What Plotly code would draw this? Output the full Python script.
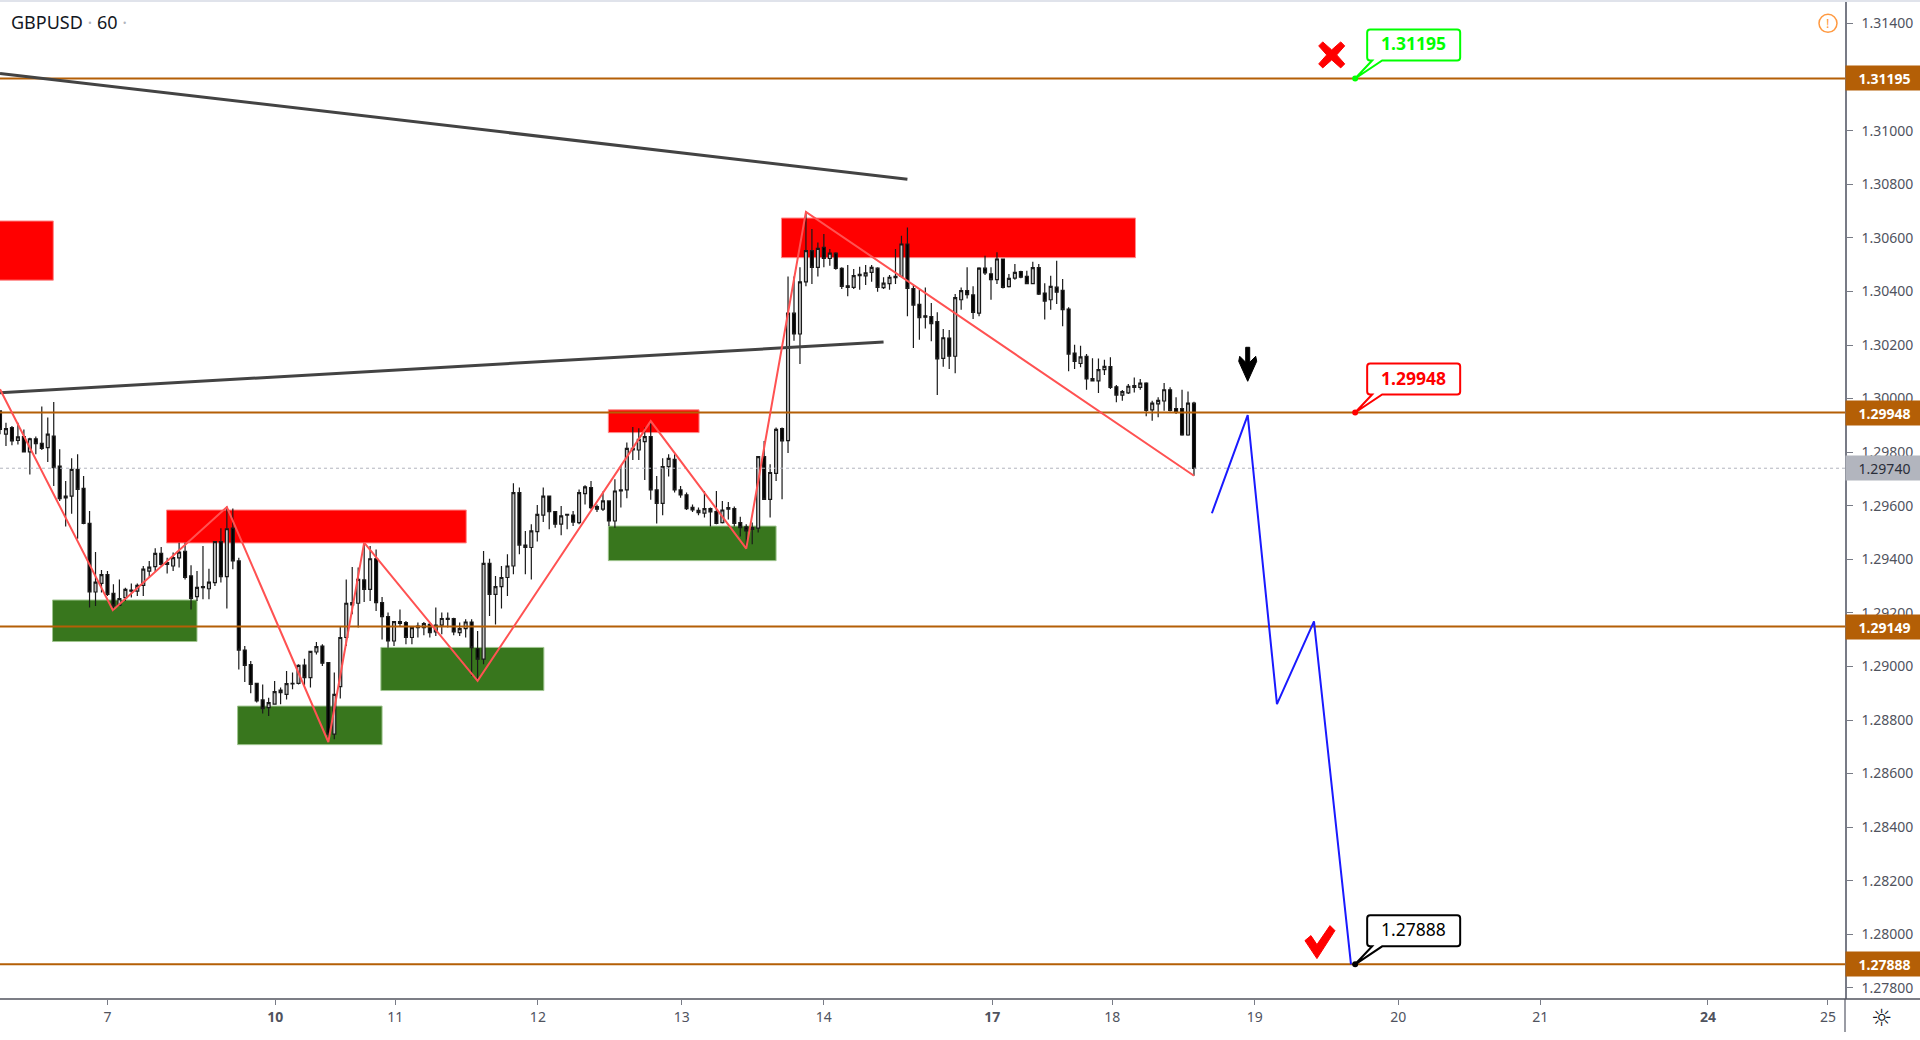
import numpy as np
import plotly.graph_objects as go

# GBPUSD 60 min candles, prices in points (1e-5)
opens = [
    129954, 129867, 129892, 129844, 129858, 129801, 129850, 129833, 129817, 129860,
    129748, 129636, 129636, 129736, 129665, 129534, 129278, 129310, 129343, 129273,
    129228, 129257, 129285, 129281, 129303, 129356, 129373, 129422, 129388, 129375,
    129405, 129430, 129338, 129261, 129294, 129290, 129313, 129466, 129335, 129516,
    129394, 129061, 129007, 128937, 128875, 128846, 128859, 128912, 128896, 128935,
    128937, 129005, 128958, 129054, 129076, 129014, 128747, 128925, 129108, 129238,
    129236, 129323, 129288, 129402, 129238, 129186, 129095, 129161, 129164, 129108,
    129145, 129145, 129157, 129129, 129154, 129180, 129179, 129126, 129141, 129166,
    129066, 129027, 129385, 129269, 129298, 129332, 129375, 129649, 129453, 129444,
    129503, 129565, 129636, 129578, 129531, 129568, 129565, 129537, 129645, 129668,
    129597, 129587, 129618, 129543, 129655, 129659, 129814, 129808, 129839, 129858,
    129659, 129609, 129746, 129773, 129659, 129641, 129594, 129583, 129572, 129589,
    129578, 129537, 129587, 129589, 129537, 129521, 129518, 129516, 129783, 129624,
    129721, 129888, 129843, 130319, 130241, 130436, 130552, 130490, 130565, 130523,
    130543, 130486, 130421, 130415, 130459, 130458, 130471, 130487, 130414, 130429,
    130451, 130456, 130577, 130411, 130352, 130309, 130306, 130287, 130150, 130226,
    130158, 130369, 130403, 130387, 130319, 130487, 130466, 130444, 130521, 130418,
    130450, 130474, 130456, 130429, 130489, 130394, 130369, 130416, 130404, 130334,
    130170, 130131, 130158, 130075, 130066, 130108, 130119, 130044, 130013, 130021,
    130042, 130042, 130058, 129958, 129980, 129991, 130033, 129963, 129963, 129864,
    129983,
]
highs = [
    129954, 129910, 129898, 129910, 129885, 129854, 129858, 129970, 129929, 129987,
    129811, 129692, 129777, 129792, 129711, 129580, 129427, 129360, 129356, 129307,
    129325, 129294, 129310, 129310, 129375, 129394, 129441, 129446, 129406, 129425,
    129462, 129462, 129378, 129356, 129450, 129365, 129468, 129516, 129597, 129590,
    129406, 129076, 129020, 128939, 128933, 128883, 128946, 128921, 128983, 128977,
    129008, 129029, 129058, 129091, 129083, 129017, 128977, 129151, 129325, 129371,
    129369, 129462, 129450, 129437, 129259, 129201, 129170, 129213, 129170, 129151,
    129164, 129166, 129164, 129220, 129201, 129201, 129182, 129164, 129176, 129176,
    129132, 129431, 129402, 129338, 129375, 129419, 129684, 129668, 129506, 129531,
    129603, 129668, 129636, 129580, 129599, 129568, 129580, 129661, 129676, 129692,
    129605, 129653, 129618, 129699, 129748, 129836, 129894, 129889, 129892, 129916,
    129711, 129777, 129792, 129792, 129674, 129649, 129605, 129593, 129655, 129593,
    129655, 129618, 129614, 129597, 129559, 129531, 129537, 129786, 129842, 129755,
    129892, 129892, 130456, 130456, 130490, 130698, 130633, 130583, 130614, 130558,
    130546, 130490, 130499, 130484, 130492, 130499, 130499, 130490, 130453, 130461,
    130558, 130608, 130639, 130428, 130406, 130415, 130357, 130322, 130260, 130256,
    130390, 130415, 130490, 130419, 130490, 130533, 130490, 130546, 130521, 130465,
    130502, 130477, 130477, 130511, 130502, 130431, 130459, 130515, 130446, 130341,
    130201, 130197, 130166, 130151, 130150, 130145, 130154, 130051, 130032, 130054,
    130079, 130073, 130061, 129992, 130005, 130058, 130042, 130005, 130033, 130026,
    129988,
]
lows = [
    129867, 129823, 129826, 129829, 129801, 129717, 129792, 129808, 129763, 129674,
    129618, 129522, 129570, 129477, 129531, 129220, 129226, 129276, 129263, 129207,
    129226, 129244, 129257, 129263, 129263, 129332, 129353, 129375, 129347, 129356,
    129369, 129325, 129213, 129244, 129251, 129251, 129300, 129313, 129216, 129363,
    128989, 128942, 128900, 128865, 128824, 128815, 128859, 128859, 128877, 128915,
    128933, 128930, 128921, 129045, 129002, 128718, 128728, 128880, 129076, 129195,
    129145, 129241, 129244, 129207, 129101, 129070, 129076, 129151, 129083, 129083,
    129108, 129116, 129108, 129114, 129120, 129145, 129116, 129114, 129108, 128964,
    128946, 129008, 129188, 129157, 129216, 129263, 129344, 129419, 129344, 129325,
    129466, 129539, 129512, 129518, 129490, 129512, 129524, 129531, 129605, 129587,
    129577, 129580, 129524, 129518, 129593, 129628, 129771, 129771, 129696, 129622,
    129534, 129564, 129709, 129649, 129630, 129584, 129577, 129564, 129556, 129522,
    129531, 129534, 129549, 129522, 129485, 129440, 129456, 129500, 129622, 129556,
    129692, 129624, 129797, 130216, 130129, 130419, 130428, 130456, 130490, 130496,
    130481, 130409, 130382, 130409, 130406, 130424, 130436, 130399, 130409, 130406,
    130428, 130453, 130307, 130189, 130220, 130262, 130214, 130013, 130119, 130110,
    130095, 130332, 130374, 130297, 130307, 130461, 130369, 130428, 130411, 130415,
    130444, 130449, 130428, 130428, 130387, 130295, 130332, 130353, 130270, 130102,
    130110, 130117, 130033, 130067, 130021, 130088, 130036, 129986, 129992, 130017,
    130023, 130033, 129934, 129917, 129930, 129955, 129952, 129942, 129861, 129861,
    129712,
]
closes = [
    129885, 129888, 129842, 129857, 129801, 129850, 129832, 129814, 129867, 129742,
    129626, 129629, 129736, 129661, 129534, 129278, 129315, 129343, 129269, 129226,
    129253, 129288, 129281, 129303, 129363, 129371, 129422, 129381, 129381, 129406,
    129427, 129332, 129254, 129295, 129298, 129315, 129466, 129335, 129514, 129394,
    129061, 129004, 128933, 128871, 128842, 128865, 128906, 128902, 128936, 128937,
    129004, 128958, 129056, 129074, 129012, 128747, 128896, 129108, 129236, 129230,
    129325, 129288, 129402, 129238, 129186, 129095, 129167, 129167, 129108, 129145,
    129151, 129160, 129126, 129154, 129179, 129176, 129129, 129141, 129166, 129070,
    129027, 129385, 129269, 129298, 129332, 129375, 129649, 129453, 129444, 129506,
    129568, 129636, 129578, 129531, 129562, 129565, 129539, 129649, 129670, 129593,
    129587, 129618, 129543, 129655, 129659, 129814, 129808, 129848, 129858, 129659,
    129609, 129746, 129777, 129659, 129640, 129589, 129584, 129574, 129589, 129577,
    129534, 129584, 129593, 129534, 129518, 129506, 129512, 129783, 129624, 129724,
    129885, 129842, 130319, 130241, 130436, 130552, 130490, 130561, 130523, 130543,
    130486, 130419, 130415, 130459, 130464, 130469, 130490, 130415, 130431, 130453,
    130456, 130577, 130411, 130349, 130302, 130304, 130280, 130148, 130227, 130158,
    130377, 130403, 130388, 130322, 130487, 130469, 130444, 130521, 130415, 130449,
    130471, 130453, 130429, 130489, 130390, 130364, 130419, 130397, 130332, 130166,
    130139, 130156, 130073, 130066, 130108, 130120, 130042, 130013, 130026, 130046,
    130048, 130058, 129956, 129983, 129993, 130033, 129956, 129949, 129864, 129983,
    129739,
]

# drawings: bar number / price
zigzag_bars = [0, 18.9, 38, 55, 61, 80, 109, 125, 135, 200]
zigzag_prices = [1.30035, 1.29210, 1.29595, 1.28718, 1.29462, 1.28946, 1.29916, 1.29440, 1.30697, 1.29712]
forecast_bars = [203, 209, 213.9, 220.1, 226.3]
forecast_prices = [1.29572, 1.29938, 1.28859, 1.29168, 1.27888]
upper_trend_bars = [0, 152]
upper_trend_prices = [1.31214, 1.30819]
lower_trend_bars = [0, 148]
lower_trend_prices = [1.30022, 1.30211]

levels = [1.31195, 1.29948, 1.29149, 1.27888]
last_price = 1.29740

# (bar0, bar1, price0, price1)
red_zones = [
    (-1, 8.93, 1.30442, 1.30663),
    (27.9, 78.1, 1.29461, 1.29584),
    (101.9, 117.1, 1.29873, 1.29958),
    (130.9, 190.2, 1.30526, 1.30674),
]
green_zones = [
    (8.8, 33, 1.29093, 1.29248),
    (39.8, 64, 1.28708, 1.28852),
    (63.8, 91.1, 1.28910, 1.29071),
    (101.9, 130, 1.29395, 1.29524),
]

tick_bars = [18, 46.1, 66.2, 90.1, 114.2, 138, 166.2, 186.3, 210.2, 234.2, 258, 286.1, 306.2]
tick_days = ["7", "<b>10</b>", "11", "12", "13", "14", "<b>17</b>", "18", "19", "20", "21", "<b>24</b>", "25"]

callouts = [(1.31195, "1.31195", "#00ff00", True), (1.29948, "1.29948", "#ff0000", True), (1.27888, "1.27888", "#000000", False)]
callout_bar = 227

FONT = "Noto Sans"
ORANGE = "#b45f06"
AXIS = "#787b86"
TEXT = "#50535e"

bars = np.arange(len(opens))
x_range = [0, 309.05]
y_range = [1.277585, 1.314805]

fig = go.Figure()

fig.add_trace(go.Candlestick(
    x=bars,
    open=np.array(opens) / 1e5,
    high=np.array(highs) / 1e5,
    low=np.array(lows) / 1e5,
    close=np.array(closes) / 1e5,
    whiskerwidth=0,
    increasing=dict(line=dict(color="#1a1a1a", width=1.2), fillcolor="#c4c4c4"),
    decreasing=dict(line=dict(color="#1a1a1a", width=1.2), fillcolor="#000000"),
    showlegend=False,
    hoverinfo="skip",
))


def add_line(xs, ys, color, width, dash="solid"):
    fig.add_trace(go.Scatter(x=xs, y=ys, mode="lines", line=dict(color=color, width=width, dash=dash),
                             showlegend=False, hoverinfo="skip"))


add_line(x_range, [last_price, last_price], "#b2b5be", 1, "dot")
for level in levels:
    add_line(x_range, [level, level], ORANGE, 2)
add_line(upper_trend_bars, upper_trend_prices, "#434343", 3)
add_line(lower_trend_bars, lower_trend_prices, "#434343", 3)
add_line(zigzag_bars, zigzag_prices, "#ff5252", 2)
add_line(forecast_bars, forecast_prices, "#1a1aff", 2)

shapes = []
for zones, fill, edge in [(red_zones, "#ff0000", "#ff8a8a"), (green_zones, "#38761d", "#9fc58f")]:
    for x0, x1, y0, y1 in zones:
        shapes.append(dict(type="rect", layer="below", xref="x", yref="y", x0=x0, x1=x1, y0=y0, y1=y1,
                           fillcolor=fill, line=dict(color=edge, width=1)))


def pixel_path(bar, price, path, color):
    return dict(type="path", xref="x", yref="y", xsizemode="pixel", ysizemode="pixel", xanchor=bar, yanchor=price,
                path=path, fillcolor=color, line=dict(color=color, width=1))


# callout boxes, pixel path around the anchored price point
BOX = ("M 15 18 Q 12 18 12 21 L 12 46 Q 12 49 15 49 L 102 49 Q 105 49 105 46 L 105 21 "
       "Q 105 18 102 18 L 27 18 L 0 0 L 17 18 Z")
annotations = []
for price, label, color, bold in callouts:
    box = pixel_path(callout_bar, price, BOX, "#ffffff")
    box["line"] = dict(color=color, width=2)
    shapes.append(box)
    fig.add_trace(go.Scatter(x=[callout_bar], y=[price], mode="markers", marker=dict(color=color, size=6),
                             showlegend=False, hoverinfo="skip"))
    annotations.append(dict(x=callout_bar, y=price, xref="x", yref="y", text=f"<b>{label}</b>" if bold else label,
                            showarrow=False, xanchor="center", yanchor="middle", xshift=58, yshift=35,
                            font=dict(family=FONT, size=17.5, color=color)))

# icons drawn on the chart: down arrow, cross, tick
shapes.append(pixel_path(209, 1.30128, "M -2 17 L 2 17 L 2 2 L 8 8 L 9 3 L 0 -17 L -9 3 L -8 8 L -2 2 Z", "#000000"))
shapes.append(pixel_path(223.07, 1.31283, "M -9 13 L 0 5 L 9 13 L 13 9 L 5 0 L 13 -9 L 9 -13 L 0 -5 L -9 -13 "
                                          "L -13 -9 L -5 0 L -13 9 Z", "#ff0000"))
shapes.append(pixel_path(221.1, 1.27969, "M -15 2 L -9 7 L -3 -2 L 10 17 L 15 12 L -3 -16 Z", "#ff0000"))

# warning icon, top right
shapes.append(dict(type="circle", xref="x", yref="y", xsizemode="pixel", ysizemode="pixel",
                   xanchor=306.2, yanchor=1.31401, x0=-9, x1=9, y0=-9, y1=9,
                   line=dict(color="#ff9940", width=1.5)))
annotations.append(dict(x=306.2, y=1.31401, xref="x", yref="y", text="!", showarrow=False,
                        font=dict(family=FONT, size=13, color="#ff9940")))

# axis frame extensions and top band
shapes.append(dict(type="line", xref="paper", yref="paper", x0=1, x1=1, y0=0, y1=-33 / 997,
                   line=dict(color=AXIS, width=1.5)))
shapes.append(dict(type="line", xref="paper", yref="paper", x0=0, x1=1920 / 1845, y0=0, y1=0,
                   line=dict(color=TEXT, width=1.5)))
shapes.append(dict(type="rect", xref="paper", yref="paper", x0=0, x1=1920 / 1845, y0=1, y1=1 + 2 / 997,
                   fillcolor="#e0e3eb", line=dict(width=0)))

# price labels on the axis
for level in levels:
    annotations.append(dict(x=1, y=level, xref="paper", yref="y", text=f"<b>{level:.5f}</b>", showarrow=False,
                            xanchor="left", yanchor="middle", width=75, height=22, align="center",
                            bgcolor=ORANGE, font=dict(family=FONT, size=14, color="#ffffff")))
annotations.append(dict(x=1, y=last_price, xref="paper", yref="y", text=f"{last_price:.5f}", showarrow=False,
                        xanchor="left", yanchor="middle", width=75, height=22, align="center",
                        bgcolor="#b2b5be", font=dict(family=FONT, size=14, color="#2a2e39")))

annotations += [
    dict(x=0, y=1, xref="paper", yref="paper", xanchor="left", yanchor="middle", yshift=-20, xshift=9,
         showarrow=False, align="left",
         text="GBPUSD <span style='color:#b2b5be'>·</span> 60 <span style='color:#b2b5be'>·</span>",
         font=dict(family=FONT, size=18, color="#131722")),
    dict(x=1882 / 1845, y=0, xref="paper", yref="paper", xanchor="center", yanchor="middle", yshift=-19,
         text="☼", showarrow=False, font=dict(family="DejaVu Sans", size=24, color="#131722")),
]

fig.update_layout(
    width=1920,
    height=1040,
    margin=dict(l=0, r=75, t=2, b=41),
    paper_bgcolor="#ffffff",
    plot_bgcolor="#ffffff",
    showlegend=False,
    shapes=shapes,
    annotations=annotations,
)
fig.update_xaxes(
    range=x_range,
    rangeslider_visible=False,
    showgrid=False,
    zeroline=False,
    showline=False,
    tickmode="array",
    tickvals=tick_bars,
    ticktext=tick_days,
    ticks="outside",
    ticklen=5,
    tickcolor=AXIS,
    tickfont=dict(family=FONT, size=14, color=TEXT),
)
fig.update_yaxes(
    range=y_range,
    side="right",
    showgrid=False,
    zeroline=False,
    showline=True,
    linecolor=AXIS,
    linewidth=1.5,
    tick0=1.278,
    dtick=0.002,
    tickformat=".5f",
    ticks="outside",
    ticklen=6,
    tickcolor=AXIS,
    ticklabelstandoff=6,
    tickfont=dict(family=FONT, size=14, color=TEXT),
)

# the page's default body margin would shift the 1920 wide chart
fig.write_html("out.html", config=dict(displayModeBar=False), post_script="document.body.style.margin = '0';")
